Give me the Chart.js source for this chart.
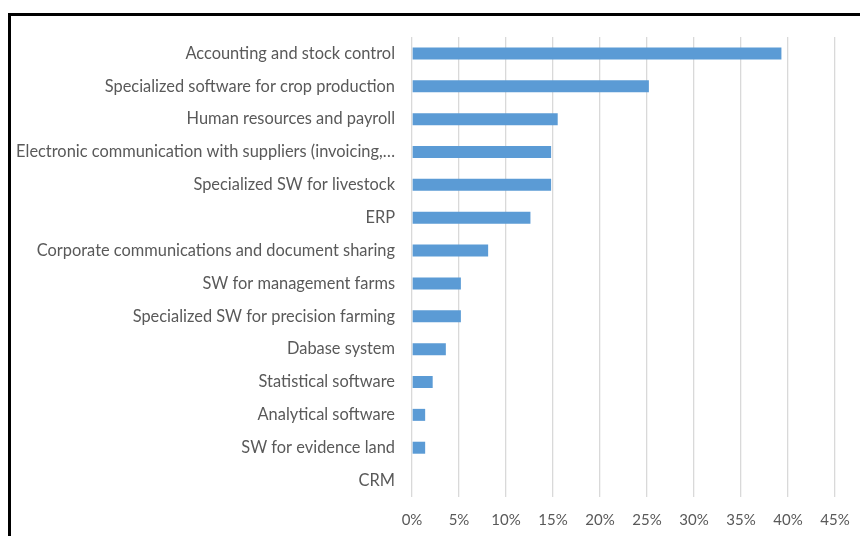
<!DOCTYPE html>
<html>
<head>
<meta charset="utf-8">
<script src="https://cdn.jsdelivr.net/npm/chart.js@4"></script>
<style>
html,body{margin:0;padding:0;background:#fff;}
#wrap{position:relative;width:860px;height:536px;}
</style>
</head>
<body>
<div id="wrap"><canvas id="c" width="860" height="536"></canvas></div>
<script>
const categories = [
  "Accounting and stock control",
  "Specialized software for crop production",
  "Human resources and payroll",
  "Electronic communication with suppliers (invoicing,…",
  "Specialized SW for livestock",
  "ERP",
  "Corporate communications and document sharing",
  "SW for management farms",
  "Specialized SW for precision farming",
  "Dabase system",
  "Statistical software",
  "Analytical software",
  "SW for evidence land",
  "CRM"
];
const values = [39.3, 25.2, 15.5, 14.8, 14.8, 12.6, 8.1, 5.2, 5.2, 3.6, 2.2, 1.4, 1.4, 0];
const xTickMax = 45;
const xTickStep = 5;

const frame = {
  id: 'frame',
  afterDraw(chart) {
    const ctx = chart.ctx;
    ctx.save();
    ctx.strokeStyle = '#000';
    ctx.lineWidth = 3;
    ctx.beginPath();
    ctx.moveTo(9.5, 536);
    ctx.lineTo(9.5, 14.5);
    ctx.lineTo(860, 14.5);
    ctx.stroke();
    ctx.restore();
  }
};

new Chart(document.getElementById('c'), {
  type: 'bar',
  data: {
    labels: categories,
    datasets: [{
      data: values,
      backgroundColor: '#5b9bd5',
      borderWidth: 0,
      barPercentage: 0.365,
      categoryPercentage: 1
    }]
  },
  options: {
    indexAxis: 'y',
    responsive: false,
    animation: false,
    devicePixelRatio: 1,
    layout: { padding: { top: 37, right: 25, left: 0, bottom: 0 } },
    plugins: { legend: { display: false }, tooltip: { enabled: false } },
    scales: {
      x: {
        min: 0, max: xTickMax,
        ticks: {
          stepSize: xTickStep,
          callback: v => v + '%',
          color: '#595959',
          font: { family: 'Lato', size: 15 },
          padding: 14
        },
        grid: { color: '#d9d9d9', lineWidth: 1.3, drawTicks: false },
        border: { display: false },
        afterFit(s) { s.height = 39; s.paddingRight = 0; s.paddingLeft = 0; }
      },
      y: {
        ticks: {
          color: '#595959',
          font: { family: 'Lato', size: 16.4 },
          padding: 17,
          autoSkip: false
        },
        grid: { display: false, drawTicks: false },
        border: { display: false },
        afterFit(s) { s.width = 412; s.paddingTop = 0; s.paddingBottom = 0; }
      }
    }
  },
  plugins: [frame]
});
</script>
</body>
</html>
